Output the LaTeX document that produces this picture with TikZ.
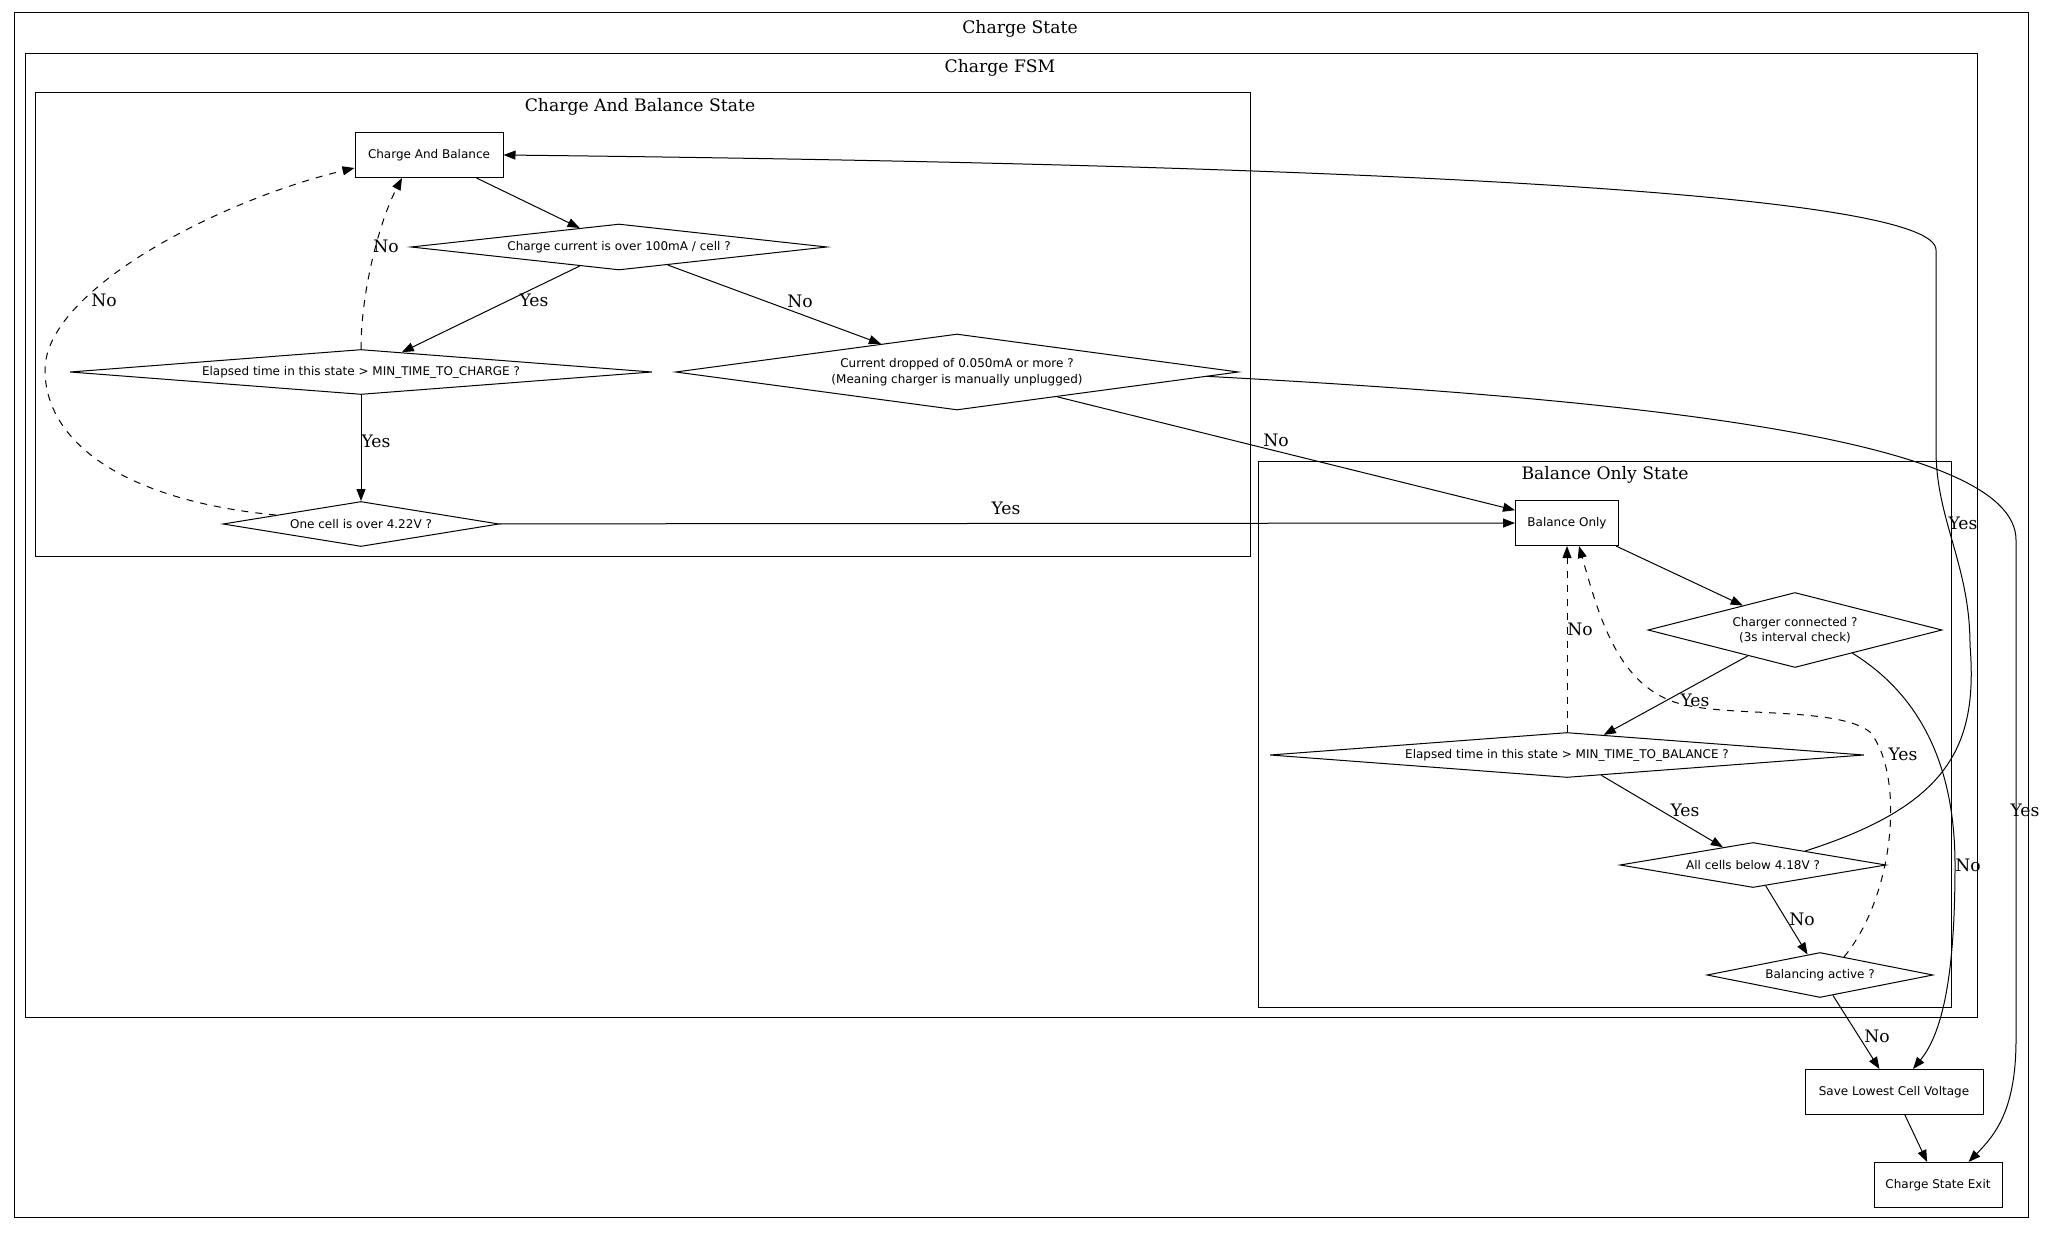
\documentclass[tikz,border=0pt]{standalone}
\usepackage{fontspec}
\setmainfont{DejaVu Serif}
\newfontfamily\boxfont{DejaVu Sans}
\usetikzlibrary{arrows.meta,shapes.geometric}

\begin{document}
\begin{tikzpicture}[x=1pt, y=-1pt, line width=1pt,
    font=\fontsize{17.2}{20}\selectfont,
    frame/.style={draw},
    title/.style={inner sep=0pt},
    state/.style={draw, rectangle, inner sep=0pt, minimum height=45pt, font=\boxfont\fontsize{12}{15.5}\selectfont},
    test/.style={draw, diamond, inner sep=0pt, align=center, font=\boxfont\fontsize{12}{15.5}\selectfont},
    go/.style={-{Triangle[length=12pt, width=9pt]}},
    back/.style={go, dash pattern=on 7pt off 7pt},
    lbl/.style={inner sep=0pt}]
  \useasboundingbox (0,0) rectangle (2048,1233);
  % clusters
  \draw[frame] (14,13) rectangle (2028,1217);
  \node[title] (tState) at (1020,29) {Charge State};
  \draw[frame] (25,54) rectangle (1977,1017);
  \node[title] (tFsm) at (1000,68) {Charge FSM};
  \draw[frame] (35,93) rectangle (1250,556);
  \node[title] (tCab) at (640,107) {Charge And Balance State};
  \draw[frame] (1258,461) rectangle (1951,1007);
  \node[title] (tBo) at (1605,475) {Balance Only State};

  % charge and balance
  \node[state, minimum width=148pt] (cab) at (429,155) {Charge And Balance};
  \node[test, aspect=9, minimum width=416pt, minimum height=46pt] (ccur) at (619,247) {Charge current is over 100mA / cell ?};
  \node[test, aspect=12.9, minimum width=582pt, minimum height=45pt] (elc) at (361,372) {Elapsed time in this state > MIN\_TIME\_TO\_CHARGE ?};
  \node[test, aspect=7.4, minimum width=563pt, minimum height=76pt] (cdrop) at (957,372) {Current dropped of 0.050mA or more ?\\(Meaning charger is manually unplugged)};
  \node[test, aspect=6.1, minimum width=276pt, minimum height=45pt] (one) at (361,524) {One cell is over 4.22V ?};

  % balance only
  \node[state, minimum width=103pt] (bo) at (1567,523) {Balance Only};
  \node[test, aspect=3.9, minimum width=294pt, minimum height=75pt] (chg) at (1795,630) {Charger connected ?\\(3s interval check)};
  \node[test, aspect=13.2, minimum width=594pt, minimum height=45pt] (elb) at (1567,755) {Elapsed time in this state > MIN\_TIME\_TO\_BALANCE ?};
  \node[test, aspect=5.9, minimum width=266pt, minimum height=45pt] (allc) at (1753,865) {All cells below 4.18V ?};
  \node[test, aspect=5, minimum width=226pt, minimum height=45pt] (bact) at (1820,975) {Balancing active ?};

  % exit
  \node[state, minimum width=178pt] (save) at (1894,1092) {Save Lowest Cell Voltage};
  \node[state, minimum width=128pt] (exit) at (1938,1185) {Charge State Exit};

  % edges
  \draw[go] (cab) -- (ccur);
  \draw[go] (ccur) -- (elc);
  \draw[go] (ccur) -- (cdrop);
  \draw[go] (elc) -- (one);
  \draw[back] (elc.north) .. controls (361,290) and (380,220) .. ([xshift=-27pt]cab.south);
  \draw[back] (one.174) .. controls (120,500) and (45,440) .. (45,370) .. controls (45,290) and (220,200) .. ([yshift=-13pt]cab.west);
  \draw[go] (one) -- (bo);
  \draw[go] (cdrop) -- (bo);
  \draw[go] (cdrop.-1) .. controls (1650,400) and (2016,440) .. (2016,540) -- (2016,1040) .. controls (2016,1110) and (1995,1135) .. ([xshift=-34pt]exit.north east);
  \draw[go] (bo) -- (chg);
  \draw[go] (chg) -- (elb);
  \draw[go] (chg.-22) .. controls (1920,695) and (1955,765) .. (1955,865) .. controls (1955,965) and (1945,1030) .. ([xshift=19pt]save.north);
  \draw[back] (elb.north) -- (bo.south);
  \draw[go] (elb) -- (allc);
  \draw[go] (allc.15) .. controls (1950,805) and (1978,745) .. (1970,645) .. controls (1970,565) and (1936,520) .. (1936,450) -- (1936,250) .. controls (1936,195) and (1400,165) .. (cab.east);
  \draw[go] (allc) -- (bact);
  \draw[back] (bact.37) .. controls (1895,895) and (1905,775) .. (1870,732) .. controls (1840,708) and (1740,716) .. (1690,706) .. controls (1620,694) and (1600,620) .. ([xshift=12pt]bo.south);
  \draw[go] (bact) -- (save);
  \draw[go] (save) -- (exit);

  % labels
  \node[lbl] (lCcurYes) at (534,300) {Yes};
  \node[lbl] (lCcurNo) at (800,301) {No};
  \node[lbl] (lElcNo) at (386,246) {No};
  \node[lbl] (lElcYes) at (376,441) {Yes};
  \node[lbl] (lOneNo) at (104,300) {No};
  \node[lbl] (lOneYes) at (1006,508) {Yes};
  \node[lbl] (lDropNo) at (1276,440) {No};
  \node[lbl] (lDropYes) at (2025,810) {Yes};
  \node[lbl] (lAllYes) at (1963,523) {Yes};
  \node[lbl] (lChgYes) at (1695,700) {Yes};
  \node[lbl] (lChgNo) at (1968,865) {No};
  \node[lbl] (lElbNo) at (1580,629) {No};
  \node[lbl] (lElbYes) at (1685,810) {Yes};
  \node[lbl] (lAllNo) at (1802,919) {No};
  \node[lbl] (lBactYes) at (1903,754) {Yes};
  \node[lbl] (lBactNo) at (1877,1036) {No};
\end{tikzpicture}
\end{document}
